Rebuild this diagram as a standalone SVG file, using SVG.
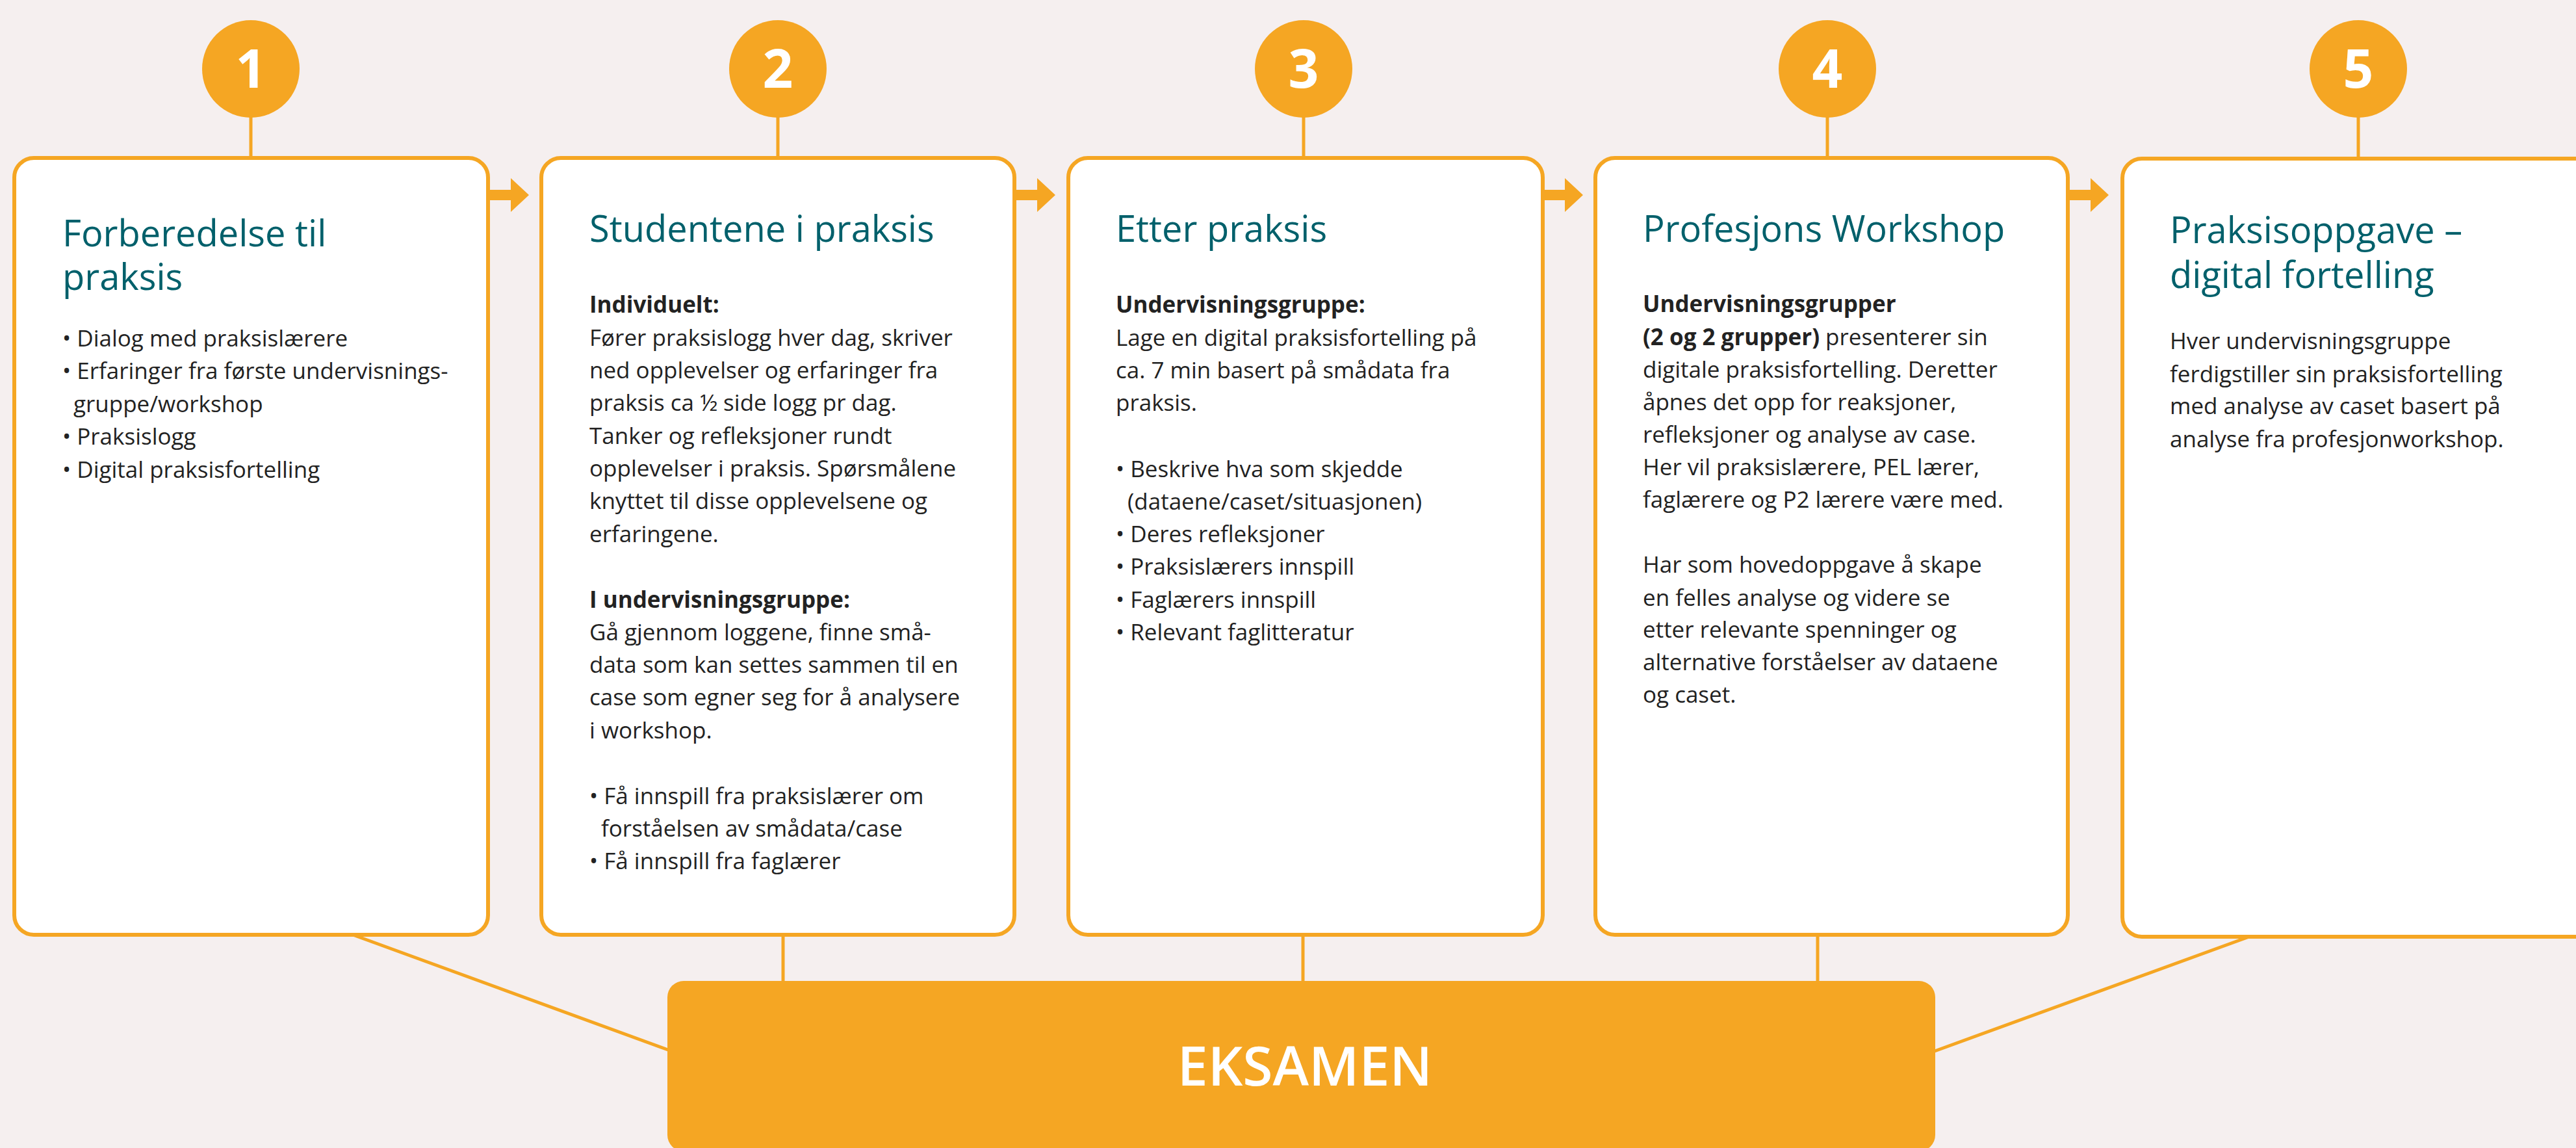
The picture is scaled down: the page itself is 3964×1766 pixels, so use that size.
<svg xmlns="http://www.w3.org/2000/svg" width="3964" height="1766" viewBox="0 0 3964 1766">
<style>
.bg{fill:#F5EFEF}
.box{fill:#FFFFFF;stroke:#F5A623;stroke-width:6}
.circ{fill:#F5A623}
.num{font-family:"Open Sans","Liberation Sans",sans-serif;font-weight:700;font-size:82px;fill:#FFFFFF;text-anchor:middle}
.line{stroke:#F5A623;stroke-width:5;fill:none}
.arrow{fill:#F5A623}
.title{font-family:"Open Sans","Liberation Sans",sans-serif;font-size:56px;fill:#00606B}
.body{font-family:"Open Sans","Liberation Sans",sans-serif;font-size:35px;fill:#222222}
.b{font-weight:700}
.exam{fill:#F5A623}
.examt{font-family:"Open Sans","Liberation Sans",sans-serif;font-weight:600;font-size:84px;fill:#FFFFFF;text-anchor:middle}
</style>
<rect class="bg" x="0" y="0" width="3964" height="1766"/>

<g id="connectors">
  <line class="line" x1="386" y1="180" x2="386" y2="243"/>
  <line class="line" x1="1197" y1="180" x2="1197" y2="243"/>
  <line class="line" x1="2006" y1="180" x2="2006" y2="243"/>
  <line class="line" x1="2812" y1="180" x2="2812" y2="243"/>
  <line class="line" x1="3629" y1="180" x2="3629" y2="243"/>
  <line class="line" x1="1205" y1="1438" x2="1205" y2="1510"/>
  <line class="line" x1="2005" y1="1438" x2="2005" y2="1510"/>
  <line class="line" x1="2797" y1="1438" x2="2797" y2="1510"/>
  <line class="line" x1="543" y1="1438" x2="1028" y2="1615"/>
  <line class="line" x1="3461" y1="1441" x2="2977" y2="1617"/>
  <path class="arrow" d="M753,292 H786 V274 L814,300 L786,326 V308 H753 Z"/>
  <path class="arrow" d="M1563,292 H1596 V274 L1624,300 L1596,326 V308 H1563 Z"/>
  <path class="arrow" d="M2376,292 H2408 V274 L2436,300 L2408,326 V308 H2376 Z"/>
  <path class="arrow" d="M3184,292 H3217 V274 L3245,300 L3217,326 V308 H3184 Z"/>
</g>

<g id="node-1">
  <circle class="circ" cx="386" cy="106" r="75"/>
  <text class="num" x="386" y="135">1</text>
  <rect class="box" x="22" y="243" width="729" height="1195" rx="30" ry="30"/>
  <text class="title" x="96" y="379">Forberedelse til</text>
  <text class="title" x="96" y="446">praksis</text>
  <text class="body" x="96" y="533">• Dialog med praksislærere</text>
  <text class="body" x="96" y="583">• Erfaringer fra første undervisnings-</text>
  <text class="body" x="113" y="634">gruppe/workshop</text>
  <text class="body" x="96" y="684">• Praksislogg</text>
  <text class="body" x="96" y="735">• Digital praksisfortelling</text>
</g>

<g id="node-2">
  <circle class="circ" cx="1197" cy="106" r="75"/>
  <text class="num" x="1197" y="135">2</text>
  <rect class="box" x="833" y="243" width="728" height="1195" rx="30" ry="30"/>
  <text class="title" x="907" y="372">Studentene i praksis</text>
  <text class="body b" x="907" y="481">Individuelt:</text>
  <text class="body" x="907" y="532">Fører praksislogg hver dag, skriver</text>
  <text class="body" x="907" y="582">ned opplevelser og erfaringer fra</text>
  <text class="body" x="907" y="632">praksis ca ½ side logg pr dag.</text>
  <text class="body" x="907" y="683">Tanker og refleksjoner rundt</text>
  <text class="body" x="907" y="733">opplevelser i praksis. Spørsmålene</text>
  <text class="body" x="907" y="783">knyttet til disse opplevelsene og</text>
  <text class="body" x="907" y="834">erfaringene.</text>
  <text class="body b" x="907" y="935">I undervisningsgruppe:</text>
  <text class="body" x="907" y="985">Gå gjennom loggene, finne små-</text>
  <text class="body" x="907" y="1035">data som kan settes sammen til en</text>
  <text class="body" x="907" y="1085">case som egner seg for å analysere</text>
  <text class="body" x="907" y="1136">i workshop.</text>
  <text class="body" x="907" y="1237">• Få innspill fra praksislærer om</text>
  <text class="body" x="925" y="1287">forståelsen av smådata/case</text>
  <text class="body" x="907" y="1337">• Få innspill fra faglærer</text>
</g>

<g id="node-3">
  <circle class="circ" cx="2006" cy="106" r="75"/>
  <text class="num" x="2006" y="135">3</text>
  <rect class="box" x="1644" y="243" width="730" height="1195" rx="30" ry="30"/>
  <text class="title" x="1717" y="372">Etter praksis</text>
  <text class="body b" x="1717" y="481">Undervisningsgruppe:</text>
  <text class="body" x="1717" y="532">Lage en digital praksisfortelling på</text>
  <text class="body" x="1717" y="582">ca. 7 min basert på smådata fra</text>
  <text class="body" x="1717" y="632">praksis.</text>
  <text class="body" x="1717" y="734">• Beskrive hva som skjedde</text>
  <text class="body" x="1735" y="784">(dataene/caset/situasjonen)</text>
  <text class="body" x="1717" y="834">• Deres refleksjoner</text>
  <text class="body" x="1717" y="884">• Praksislærers innspill</text>
  <text class="body" x="1717" y="935">• Faglærers innspill</text>
  <text class="body" x="1717" y="985">• Relevant faglitteratur</text>
</g>

<g id="node-4">
  <circle class="circ" cx="2812" cy="106" r="75"/>
  <text class="num" x="2812" y="135">4</text>
  <rect class="box" x="2455" y="243" width="727" height="1195" rx="30" ry="30"/>
  <text class="title" x="2528" y="372">Profesjons Workshop</text>
  <text class="body b" x="2528" y="480">Undervisningsgrupper</text>
  <text class="body" x="2528" y="531"><tspan class="b">(2 og 2 grupper)</tspan> presenterer sin</text>
  <text class="body" x="2528" y="581">digitale praksisfortelling. Deretter</text>
  <text class="body" x="2528" y="631">åpnes det opp for reaksjoner,</text>
  <text class="body" x="2528" y="681">refleksjoner og analyse av case.</text>
  <text class="body" x="2528" y="731">Her vil praksislærere, PEL lærer,</text>
  <text class="body" x="2528" y="781">faglærere og P2 lærere være med.</text>
  <text class="body" x="2528" y="881">Har som hovedoppgave å skape</text>
  <text class="body" x="2528" y="932">en felles analyse og videre se</text>
  <text class="body" x="2528" y="981">etter relevante spenninger og</text>
  <text class="body" x="2528" y="1031">alternative forståelser av dataene</text>
  <text class="body" x="2528" y="1081">og caset.</text>
</g>

<g id="node-5">
  <circle class="circ" cx="3629" cy="106" r="75"/>
  <text class="num" x="3629" y="135">5</text>
  <rect class="box" x="3266" y="244" width="729" height="1197" rx="30" ry="30"/>
  <text class="title" x="3339" y="374">Praksisoppgave –</text>
  <text class="title" x="3339" y="443">digital fortelling</text>
  <text class="body" x="3339" y="537">Hver undervisningsgruppe</text>
  <text class="body" x="3339" y="588">ferdigstiller sin praksisfortelling</text>
  <text class="body" x="3339" y="637">med analyse av caset basert på</text>
  <text class="body" x="3339" y="688">analyse fra profesjonworkshop.</text>
</g>

<g id="eksamen">
  <rect class="exam" x="1027" y="1509" width="1951" height="262" rx="25" ry="25"/>
  <text class="examt" x="2008" y="1670">EKSAMEN</text>
</g>
</svg>
